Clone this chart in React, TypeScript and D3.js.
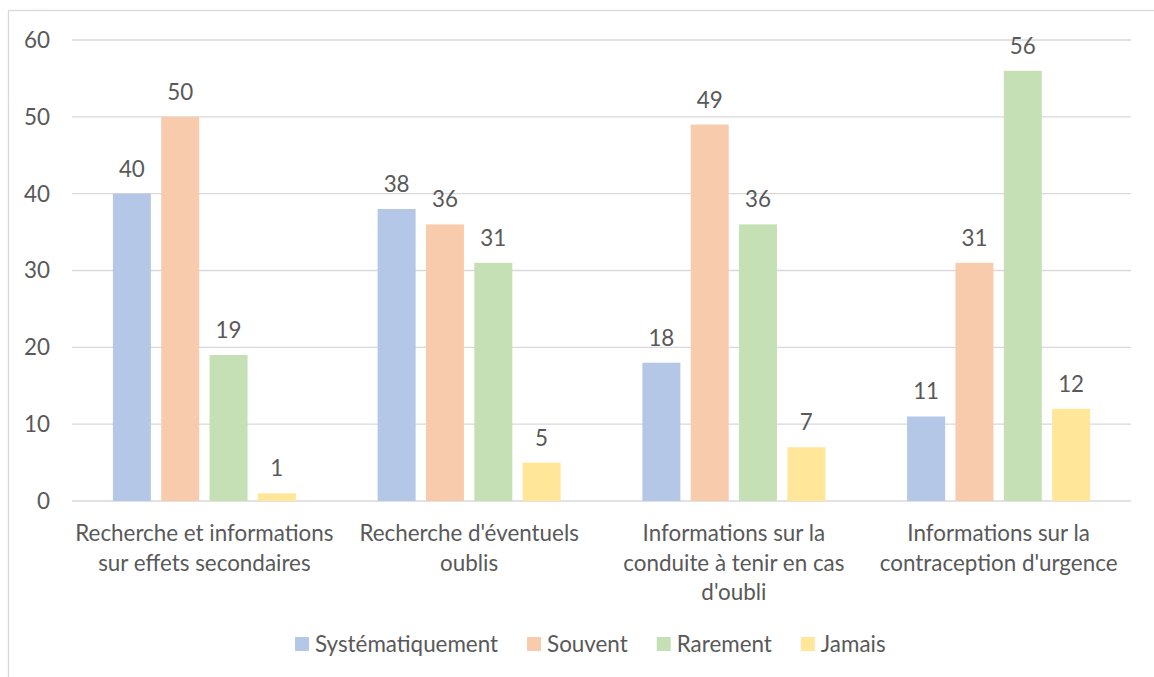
import React, { useEffect, useRef } from 'react';
import * as d3 from 'd3';

// catégories (lignes des étiquettes telles qu'affichées)
const categories = [
  ['Recherche et informations', 'sur effets secondaires'],
  ["Recherche d'éventuels", 'oublis'],
  ['Informations sur la', 'conduite à tenir en cas', "d'oubli"],
  ['Informations sur la', "contraception d'urgence"],
];
const seriesNames = ['Systématiquement', 'Souvent', 'Rarement', 'Jamais'];
const systematiquement = [40, 38, 18, 11];
const souvent = [50, 36, 49, 31];
const rarement = [19, 31, 36, 56];
const jamais = [1, 5, 7, 12];
const yTicks = [0, 10, 20, 30, 40, 50, 60];

const colors = ['#B4C7E7', '#F8CBAD', '#C5E0B4', '#FFE699'];
const textColor = '#595959';
const gridColor = '#D9D9D9';
const font = 'Lato, "Open Sans", sans-serif';
const fontSize = 22.4;

const W = 1154;
const H = 677;

const App: React.FC = () => {
  const svgRef = useRef<SVGSVGElement | null>(null);

  useEffect(() => {
    if (!svgRef.current) return;
    const svg = d3.select(svgRef.current);
    svg.selectAll('*').remove();

    const values = [systematiquement, souvent, rarement, jamais];
    const margin = { top: 40, right: 23, bottom: 176, left: 72 };

    // bordure de la zone de graphique
    svg
      .append('rect')
      .attr('x', 8.5)
      .attr('y', 10.5)
      .attr('width', W + 20)
      .attr('height', H + 20)
      .attr('fill', 'white')
      .attr('stroke', gridColor)
      .attr('stroke-width', 1.3);

    const catKeys = categories.map((c) => c.join(' '));
    const x0 = d3
      .scaleBand<string>()
      .domain(catKeys)
      .range([margin.left, W - margin.right]);

    const x1 = d3
      .scaleBand<string>()
      .domain(seriesNames)
      .range([0, x0.bandwidth()])
      .paddingInner(0.214)
      .paddingOuter(0.846);

    const y = d3
      .scaleLinear()
      .domain([0, 60])
      .range([H - margin.bottom, margin.top]);

    // grille
    svg
      .append('g')
      .selectAll('line')
      .data(yTicks)
      .enter()
      .append('line')
      .attr('x1', margin.left)
      .attr('x2', W - margin.right)
      .attr('y1', (d) => y(d))
      .attr('y2', (d) => y(d))
      .attr('stroke', gridColor)
      .attr('stroke-width', 1.3);

    // étiquettes de l'axe Y
    svg
      .append('g')
      .selectAll('text')
      .data(yTicks)
      .enter()
      .append('text')
      .attr('x', 50)
      .attr('y', (d) => y(d))
      .attr('dy', '0.35em')
      .attr('text-anchor', 'end')
      .attr('font-family', font)
      .attr('font-size', fontSize)
      .attr('fill', textColor)
      .text((d) => d);

    // barres
    values.forEach((serie, si) => {
      const g = svg.append('g');
      g.selectAll('rect')
        .data(serie)
        .enter()
        .append('rect')
        .attr('x', (_, i) => (x0(catKeys[i]) as number) + (x1(seriesNames[si]) as number))
        .attr('y', (d) => y(d))
        .attr('width', x1.bandwidth())
        .attr('height', (d) => y(0) - y(d))
        .attr('fill', colors[si]);

      g.selectAll('text')
        .data(serie)
        .enter()
        .append('text')
        .attr(
          'x',
          (_, i) => (x0(catKeys[i]) as number) + (x1(seriesNames[si]) as number) + x1.bandwidth() / 2
        )
        .attr('y', (d) => y(d) - 17)
        .attr('text-anchor', 'middle')
        .attr('font-family', font)
        .attr('font-size', fontSize)
        .attr('fill', textColor)
        .text((d) => d);
    });

    // étiquettes des catégories
    const catG = svg.append('g');
    categories.forEach((lines, i) => {
      const cx = (x0(catKeys[i]) as number) + x0.bandwidth() / 2;
      const t = catG
        .append('text')
        .attr('text-anchor', 'middle')
        .attr('font-family', font)
        .attr('font-size', fontSize)
        .attr('fill', textColor);
      lines.forEach((line, li) => {
        t.append('tspan')
          .attr('x', cx)
          .attr('y', y(0) + 40 + li * 29.5)
          .text(line);
      });
    });

    // légende
    const leg = svg.append('g');
    let lx = 295;
    const ly = 644;
    seriesNames.forEach((name, i) => {
      leg
        .append('rect')
        .attr('x', lx)
        .attr('y', ly - 7)
        .attr('width', 14)
        .attr('height', 14)
        .attr('fill', colors[i]);
      const t = leg
        .append('text')
        .attr('x', lx + 20)
        .attr('y', ly)
        .attr('dy', '0.35em')
        .attr('font-family', font)
        .attr('font-size', fontSize)
        .attr('fill', textColor)
        .text(name);
      const w = (t.node() as SVGTextElement).getComputedTextLength();
      lx += 20 + w + 29;
    });
  }, []);

  return (
    <svg
      ref={svgRef}
      width={W}
      height={H}
      style={{ position: 'absolute', left: 0, top: 0, display: 'block' }}
    />
  );
};

export default App;
